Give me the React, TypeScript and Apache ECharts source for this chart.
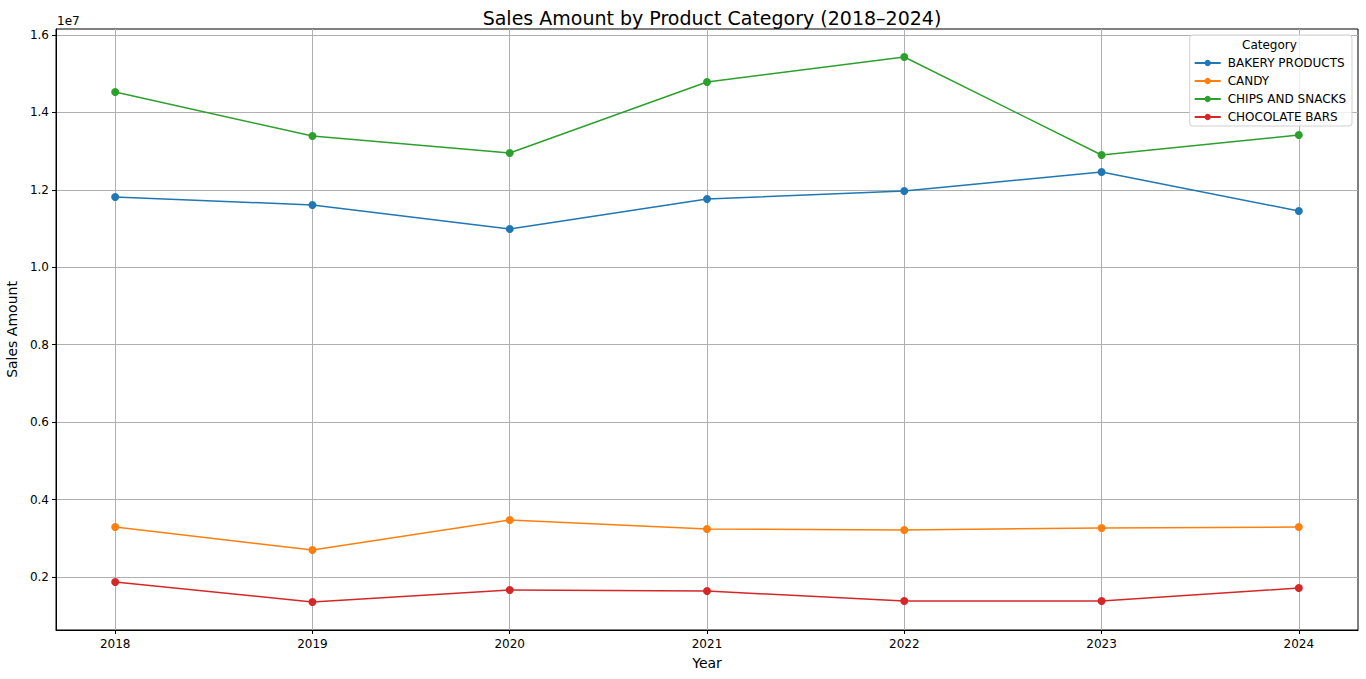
import React, { useEffect, useRef } from "react";
import * as echarts from "echarts";

const years = [2018, 2019, 2020, 2021, 2022, 2023, 2024];
const yTicks = [0.2, 0.4, 0.6, 0.8, 1.0, 1.2, 1.4, 1.6];
const SCALE = 1e7;

const bakery = [11816000, 11609000, 10989000, 11764000, 11970000, 12461000, 11454000];
const candy = [3291000, 2697000, 3472000, 3240000, 3214000, 3266000, 3291000];
const chips = [14528000, 13390000, 12952000, 14786000, 15432000, 12900000, 13417000];
const chocolate = [1871000, 1354000, 1664000, 1638000, 1380000, 1380000, 1716000];

const seriesNames = ["BAKERY PRODUCTS", "CANDY", "CHIPS AND SNACKS", "CHOCOLATE BARS"];
const seriesData = [bakery, candy, chips, chocolate];
const colors = ["#1f77b4", "#ff7f0e", "#2ca02c", "#d62728"];

const FONT = "DejaVu Sans";

export default function App() {
  const ref = useRef<HTMLDivElement>(null);
  useEffect(() => {
    if (!ref.current) return;
    const chart = echarts.init(ref.current, null, { renderer: "svg" });
    chart.setOption({
      animation: false,
      backgroundColor: "#ffffff",
      textStyle: { fontFamily: FONT },
      title: {
        text: "Sales Amount by Product Category (2018–2024)",
        left: 707,
        textAlign: "center",
        top: 3,
        textStyle: { fontFamily: FONT, fontSize: 19, fontWeight: "normal", color: "#000" },
      },
      grid: {
        left: 56,
        right: 8,
        top: 29,
        bottom: 49,
        containLabel: false,
        outerBoundsMode: "none",
        show: true,
        borderColor: "#000",
        borderWidth: 1,
        backgroundColor: "transparent",
      },
      xAxis: {
        type: "value",
        min: 2017.7,
        max: 2024.3,
        name: "Year",
        nameLocation: "middle",
        nameGap: 26,
        nameTextStyle: { fontFamily: FONT, fontSize: 14, color: "#000" },
        axisLine: { show: true, onZero: false, lineStyle: { color: "#000", width: 1 } },
        axisTick: { show: true, customValues: years, length: 4, lineStyle: { color: "#000" } },
        axisLabel: {
          customValues: years,
          fontFamily: FONT,
          fontSize: 12,
          color: "#000",
          margin: 8,
          formatter: (v: number) => String(Math.round(v)),
        },
        splitLine: { show: true, lineStyle: { color: "#b0b0b0", width: 1 } },
      },
      yAxis: {
        type: "value",
        min: 631000,
        max: 16155000,
        name: "Sales Amount",
        nameLocation: "middle",
        nameGap: 35,
        nameTextStyle: { fontFamily: FONT, fontSize: 14, color: "#000" },
        axisLine: { show: true, onZero: false, lineStyle: { color: "#000", width: 1 } },
        axisTick: { show: true, customValues: yTicks.map((t) => t * SCALE), length: 4, lineStyle: { color: "#000" } },
        axisLabel: {
          customValues: yTicks.map((t) => t * SCALE),
          fontFamily: FONT,
          fontSize: 12,
          color: "#000",
          margin: 7,
          formatter: (v: number) => (v / SCALE).toFixed(1),
        },
        splitLine: { show: true, lineStyle: { color: "#b0b0b0", width: 1 } },
      },
      legend: {
        orient: "vertical",
        right: 14,
        top: 35,
        padding: [22, 6, 3, 4],
        itemGap: 6,
        itemWidth: 26,
        itemHeight: 8,
        borderColor: "#d0d0d0",
        borderWidth: 1,
        borderRadius: 3,
        backgroundColor: "rgba(255,255,255,0.8)",
        textStyle: { fontFamily: FONT, fontSize: 12, color: "#000", padding: [0, 0, 0, 2] },
        data: seriesNames,
      },
      graphic: [
        {
          type: "text",
          left: 57,
          top: 15,
          style: { text: "1e7", fontFamily: FONT, fontSize: 12, fill: "#000" },
        },
        {
          type: "text",
          left: 1242,
          top: 39,
          style: { text: "Category", fontFamily: FONT, fontSize: 12, fill: "#000" },
          z: 100,
        },
      ],
      series: seriesNames.map((name, i) => ({
        name,
        type: "line",
        data: years.map((y, j) => [y, seriesData[i][j]]),
        symbol: "circle",
        symbolSize: 8,
        color: colors[i],
        lineStyle: { width: 1.5, color: colors[i] },
        itemStyle: { color: colors[i] },
      })),
    });
    return () => chart.dispose();
  }, []);
  return (
    <div
      ref={ref}
      style={{ position: "absolute", left: 0, top: 0, width: 1366, height: 679 }}
    />
  );
}
